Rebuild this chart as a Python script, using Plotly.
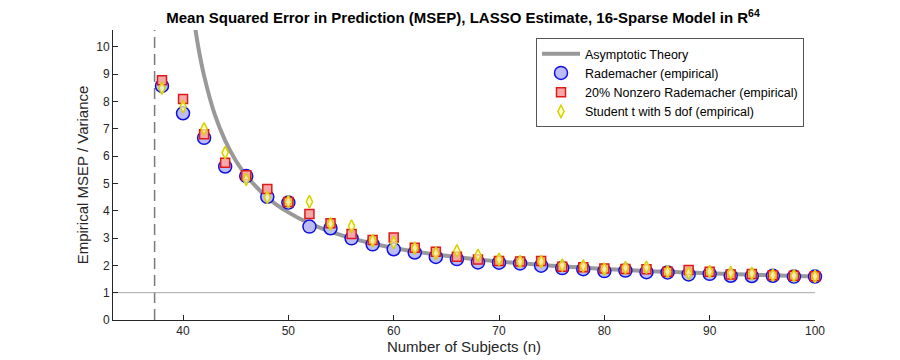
import plotly.graph_objects as go

# ---- data ----
n_subjects = [38, 40, 42, 44, 46, 48, 50, 52, 54, 56, 58, 60, 62, 64, 66, 68, 70,
              72, 74, 76, 78, 80, 82, 84, 86, 88, 90, 92, 94, 96, 98, 100]
rademacher = [8.57, 7.57, 6.67, 5.62, 5.27, 4.51, 4.30, 3.42, 3.36, 2.99, 2.77, 2.59,
              2.47, 2.31, 2.23, 2.11, 2.10, 2.07, 1.99, 1.90, 1.86, 1.79, 1.81, 1.75,
              1.74, 1.67, 1.69, 1.62, 1.61, 1.62, 1.59, 1.59]
nonzero20 = [8.78, 8.09, 6.80, 5.76, 5.30, 4.80, 4.32, 3.88, 3.54, 3.15, 2.93, 3.02,
             2.65, 2.50, 2.32, 2.22, 2.16, 2.14, 2.16, 1.95, 1.93, 1.89, 1.87, 1.86,
             1.77, 1.83, 1.77, 1.67, 1.68, 1.64, 1.62, 1.60]
student_t = [8.49, 7.81, 7.00, 6.13, 5.15, 4.49, 4.33, 4.33, 3.52, 3.44, 2.91, 2.83,
             2.63, 2.44, 2.53, 2.37, 2.22, 2.14, 2.14, 2.01, 1.98, 1.86, 1.92, 1.93,
             1.77, 1.71, 1.77, 1.73, 1.71, 1.64, 1.62, 1.60]

theory_n = [41.0, 41.5, 42, 43, 44, 45, 46, 48, 50, 52, 55, 58, 60, 65, 70, 75,
            80, 85, 90, 95, 100]
theory_v = [11.08, 9.88, 8.94, 7.54, 6.57, 5.84, 5.29, 4.49, 3.94, 3.54, 3.11, 2.80,
            2.64, 2.35, 2.14, 1.99, 1.87, 1.78, 1.71, 1.65, 1.59]

threshold_n = 37.3
baseline = 1
x_range = [33.35, 100]
y_range = [0, 10.62]
x_ticks = [40, 50, 60, 70, 80, 90, 100]
y_ticks = list(range(0, 11))

FONT = "Liberation Sans, Arial, Helvetica, sans-serif"
AXC = "#262626"
OFF = 8  # page body margin offset

fig = go.Figure()

# reference lines
fig.add_trace(go.Scatter(x=[threshold_n, threshold_n], y=y_range, mode="lines",
                         line=dict(color="#7a7a7a", width=1.5, dash="11px,6px"),
                         showlegend=False, hoverinfo="skip"))
fig.add_trace(go.Scatter(x=[x_range[0], x_range[1]], y=[baseline, baseline], mode="lines",
                         line=dict(color="#a8a8a8", width=1),
                         showlegend=False, hoverinfo="skip"))

fig.add_trace(go.Scatter(x=theory_n, y=theory_v, mode="lines", name="Asymptotic Theory",
                         line=dict(color="#999999", width=4, shape="spline", smoothing=1.0)))
fig.add_trace(go.Scatter(x=n_subjects, y=rademacher, mode="markers",
                         name="Rademacher (empirical)", cliponaxis=False,
                         marker=dict(symbol="circle", size=13, color="#bcbcf4",
                                     line=dict(color="#1010e0", width=1.5))))
fig.add_trace(go.Scatter(x=n_subjects, y=nonzero20, mode="markers",
                         name="20% Nonzero Rademacher (empirical)", cliponaxis=False,
                         marker=dict(symbol="square", size=9, color="#f4a8a8",
                                     line=dict(color="#e01818", width=1.5))))
fig.add_trace(go.Scatter(x=n_subjects, y=student_t, mode="markers",
                         name="Student t with 5 dof (empirical)", cliponaxis=False,
                         marker=dict(symbol="diamond-tall", size=9, color="rgba(255,255,190,0.7)",
                                     line=dict(color="#d8d000", width=1.5))))

plot_l, plot_r, plot_t, plot_b = 113 - OFF, 815 - OFF, 30 - OFF, 320 - OFF
fig.update_layout(
    width=900, height=360,
    margin=dict(l=plot_l, r=900 - plot_r, t=plot_t, b=360 - plot_b, autoexpand=False),
    paper_bgcolor="white", plot_bgcolor="white",
    font=dict(family=FONT, size=12, color=AXC),
    title=dict(text="<b>Mean Squared Error in Prediction (MSEP), LASSO Estimate, 16-Sparse Model in R<sup>64</sup></b>",
               x=(463 - OFF) / 900, xanchor="center", y=1 - 10 / 360, yanchor="middle",
               font=dict(family=FONT, size=15, color="black")),
    legend=dict(x=(536 - 113) / (815 - 113), y=(320 - 38) / 290, xanchor="left", yanchor="top",
                bgcolor="white", bordercolor="#555555", borderwidth=1,
                font=dict(family=FONT, size=12.5, color="black"),
                tracegroupgap=0, itemwidth=38),
    showlegend=True,
)
fig.update_xaxes(range=x_range, tickvals=x_ticks, showgrid=False, zeroline=False,
                 showline=True, linecolor=AXC, linewidth=1, ticks="inside", ticklen=5,
                 tickcolor=AXC, tickfont=dict(size=12, color=AXC), automargin=False,
                 title=dict(text="Number of Subjects (n)", font=dict(size=15, color=AXC), standoff=3))
fig.update_yaxes(range=y_range, tickvals=y_ticks, showgrid=False, zeroline=False,
                 showline=True, linecolor=AXC, linewidth=1, ticks="inside", ticklen=5,
                 tickcolor=AXC, tickfont=dict(size=12, color=AXC), automargin=False,
                 title=dict(text="Empirical MSEP / Variance", font=dict(size=15, color=AXC), standoff=3))

fig.write_html("out.html")
